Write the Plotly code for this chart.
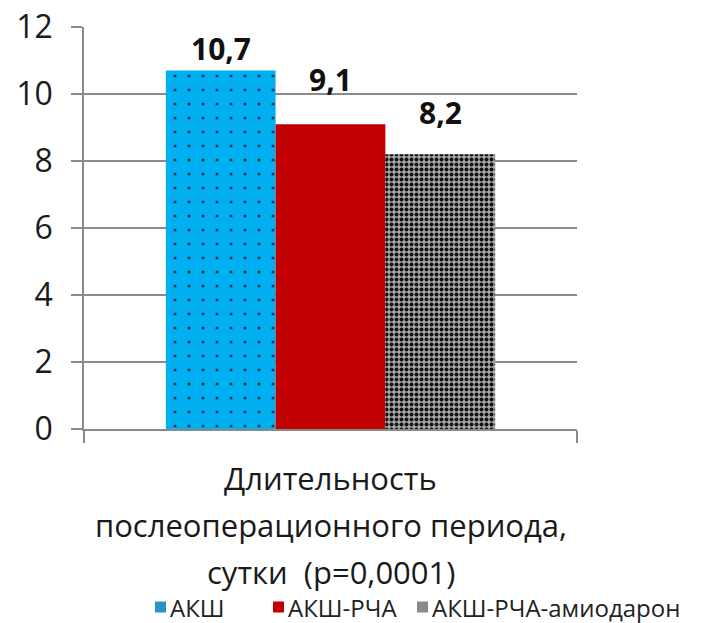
import plotly.graph_objects as go

# Chart data
category = [""]
series_names = ["АКШ", "АКШ-РЧА", "АКШ-РЧА-амиодарон"]
series_values = [10.7, 9.1, 8.2]
y_ticks = [0, 2, 4, 6, 8, 10, 12]
title_lines = ["Длительность", "послеоперационного периода,", "сутки  (p=0,0001)"]

FONT = "Open Sans"
GRID = "#8a8a8a"

styles = [
    dict(color="#00b0f0", pattern=dict(shape=".", fgcolor="#1d3557", bgcolor="#00b0f0",
                                       size=14, solidity=0.04, fillmode="replace")),
    dict(color="#c00000"),
    dict(color="#a0a0a0", pattern=dict(shape=".", fgcolor="#111111", bgcolor="#a8a8a8",
                                       size=5, solidity=0.5, fillmode="replace")),
]
legend_swatch = ["#2a93c4", "#c00000", "#8a8a8a"]

fig = go.Figure()
for name, val, st in zip(series_names, series_values, styles):
    fig.add_trace(go.Bar(x=category, y=[val], name=name, marker=st,
                         marker_line_width=0, showlegend=False))

# value labels above each bar
n = len(series_values)
bar_w = (1 - 0.332) / n
label_shift = [22, 45, 42]
for i, (val, sh) in enumerate(zip(series_values, label_shift)):
    fig.add_annotation(x=(i - (n - 1) / 2) * bar_w, y=val, xref="x", yref="y",
                       text=f"{val:.1f}".replace(".", ","), showarrow=False,
                       yanchor="middle", yshift=sh,
                       font=dict(family=FONT, size=30, color="#111111", weight="bold"))

# category title under the axis
for line, py in zip(title_lines, [-0.122, -0.239, -0.356]):
    fig.add_annotation(x=0.5, y=py, xref="paper", yref="paper", text=line,
                       showarrow=False, yanchor="middle",
                       font=dict(family=FONT, size=31, color="#1a1a1a"))

# legend row: swatch + label
leg_x = [155, 273, 417]
W, H = 708, 623
L, R, T, B = 84, 131, 27, 194
pw, ph = W - L - R, H - T - B
leg_cy = 607
for name, col, lx in zip(series_names, legend_swatch, leg_x):
    x0 = (lx - L) / pw
    x1 = (lx + 11 - L) / pw
    y0 = (H - B - (leg_cy + 5.5)) / ph
    y1 = (H - B - (leg_cy - 5.5)) / ph
    fig.add_shape(type="rect", xref="paper", yref="paper", x0=x0, x1=x1, y0=y0, y1=y1,
                  fillcolor=col, line_width=0)
    fig.add_annotation(x=(lx + 13 - L) / pw, y=(H - B - leg_cy) / ph,
                       xref="paper", yref="paper", text=name, showarrow=False,
                       xanchor="left", yanchor="middle",
                       font=dict(family=FONT, size=24, color="#222222"))

fig.update_layout(
    width=W, height=H,
    margin=dict(l=L, r=R, t=T, b=B, autoexpand=False),
    paper_bgcolor="white", plot_bgcolor="white",
    barmode="group", bargap=0.332, bargroupgap=0,
    showlegend=False,
    font=dict(family=FONT),
)
fig.update_xaxes(type="category", tickson="boundaries", ticks="outside", ticklen=12,
                 tickcolor=GRID, tickwidth=1.5, showticklabels=False,
                 showline=True, linecolor=GRID, linewidth=1.5, showgrid=False)
fig.update_yaxes(range=[0, 12], tickvals=y_ticks, ticks="outside", ticklen=11,
                 tickcolor=GRID, tickwidth=1.5, showline=True, linecolor=GRID,
                 linewidth=1.5, showgrid=True, gridcolor=GRID, gridwidth=1.5,
                 zeroline=False, ticklabelstandoff=12,
                 tickfont=dict(family=FONT, size=32, color="#1a1a1a"))

fig.write_html("out.html")
